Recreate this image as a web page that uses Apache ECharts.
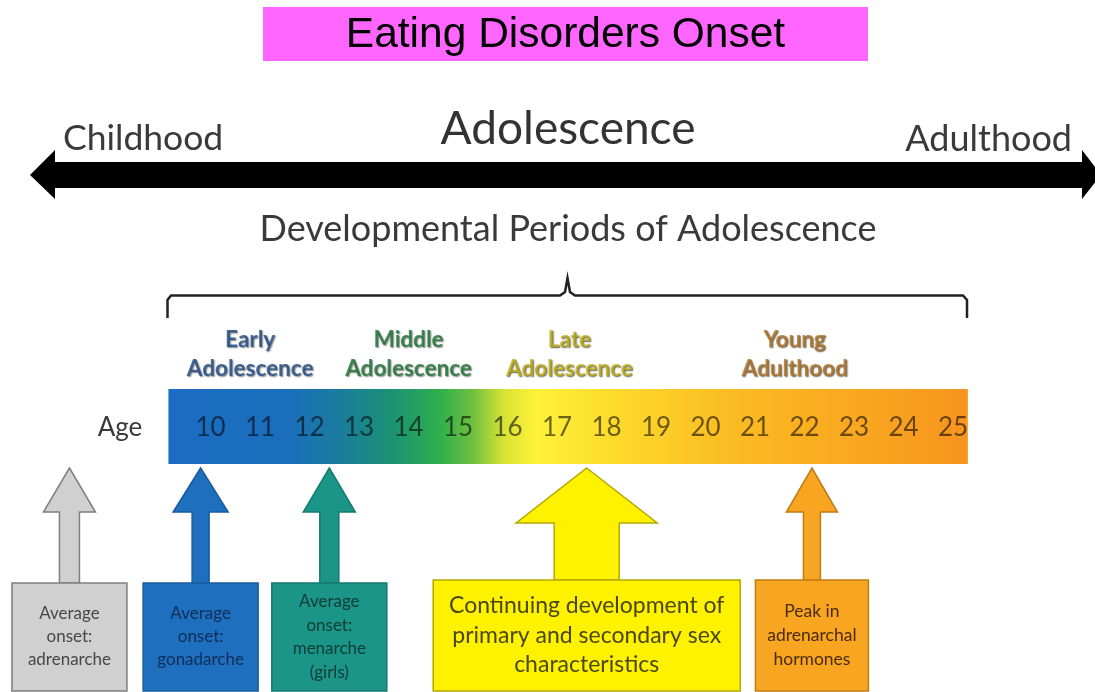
<!DOCTYPE html>
<html><head><meta charset="utf-8">
<script src="https://cdn.jsdelivr.net/npm/echarts/dist/echarts.min.js"></script>
<style>html,body{margin:0;padding:0;background:#fff}#main{width:1095px;height:692px}</style>
</head><body><div id="main"></div>
<script>
// ---------- data ----------
const chartTitle = 'Eating Disorders Onset';
const lifeStages = ['Childhood', 'Adolescence', 'Adulthood'];
const subTitle = 'Developmental Periods of Adolescence';
const ageAxisName = 'Age';
const ages = [10, 11, 12, 13, 14, 15, 16, 17, 18, 19, 20, 21, 22, 23, 24, 25];
const bandAgeRange = [9.15, 25.3];
const periodNames = ['Early\nAdolescence', 'Middle\nAdolescence', 'Late\nAdolescence', 'Young\nAdulthood'];
const periodCenterAges = [10.8, 14, 17.25, 21.8];
const eventTexts = [
  'Average\nonset:\nadrenarche',
  'Average\nonset:\ngonadarche',
  'Average\nonset:\nmenarche\n(girls)',
  'Continuing development of\nprimary and secondary sex\ncharacteristics',
  'Peak in\nadrenarchal\nhormones'
];
const eventAges = [7.15, 9.8, 12.4, 17.6, 22.15];

// ---------- styles / layout ----------
const FONT = 'Lato, "Open Sans", sans-serif';
const L = { bandTop: 389, bandBottom: 464, ageY: 428, periodY: 354, tipY: 468, bottom: 691 };
const periodStyles = [
  { color: '#1F4B84', shadow: 'rgba(0,0,0,0.6)' },
  { color: '#1E7636', shadow: 'rgba(0,0,0,0.6)' },
  { color: '#C2B21C', shadow: 'rgba(40,40,0,0.9)' },
  { color: '#B07628', shadow: 'rgba(40,20,0,0.85)' }
];
const eventStyles = [
  { hh: 26, sh: 10, base: 512, top: 583, bw: 57.5, fill: '#D0D0D0', stroke: '#7F7F7F', text: '#474747', fs: 17, lh: 23 },
  { hh: 27.5, sh: 8.5, base: 512, top: 583, bw: 57.5, fill: '#1F6FBF', stroke: '#195C9E', text: '#0E2E55', fs: 17, lh: 23 },
  { hh: 26, sh: 9.5, base: 512, top: 583, bw: 57.5, fill: '#1B9587', stroke: '#167A6F', text: '#0D3B36', fs: 17, lh: 23.5 },
  { hh: 70.5, sh: 32.5, base: 523, top: 580, bw: 153.5, fill: '#FFF200', stroke: '#B5A800', text: '#4A4712', fs: 23, lh: 29.5 },
  { hh: 25.5, sh: 8.5, base: 512, top: 580, bw: 56.5, fill: '#F8A521', stroke: '#C07C14', text: '#4A2C05', fs: 17.5, lh: 24 }
];

const chart = echarts.init(document.getElementById('main'), null, { renderer: 'canvas' });

const option = {
  backgroundColor: '#ffffff',
  animation: false,
  grid: { left: 0, right: 0, top: 0, bottom: 0 },
  xAxis: { type: 'value', min: 5.747, max: 27.869, show: false },
  yAxis: { type: 'value', min: 0, max: 692, inverse: true, show: false },
  graphic: [
    { type: 'rect', shape: { x: 263, y: 7, width: 605, height: 54 }, style: { fill: '#FF66FF' } },
    { type: 'text', x: 565.5, y: 35, style: { text: chartTitle, font: '42.5px "Liberation Sans", Arial, sans-serif', fill: '#000', align: 'center', verticalAlign: 'middle' } },
    { type: 'polygon', shape: { points: [[30, 175], [55, 150], [55, 162], [1082, 162], [1082, 150], [1101, 175], [1082, 199], [1082, 188], [55, 188], [55, 199]] }, style: { fill: '#000' } },
    { type: 'text', x: 63, y: 139, style: { text: lifeStages[0], font: '35.5px ' + FONT, fill: '#3a3a3a', align: 'left', verticalAlign: 'middle' } },
    { type: 'text', x: 568, y: 129, style: { text: lifeStages[1], font: '46px ' + FONT, fill: '#333', align: 'center', verticalAlign: 'middle' } },
    { type: 'text', x: 1072, y: 139, style: { text: lifeStages[2], font: '36px ' + FONT, fill: '#3a3a3a', align: 'right', verticalAlign: 'middle' } },
    { type: 'text', x: 568, y: 229, style: { text: subTitle, font: '36px ' + FONT, fill: '#3a3a3a', align: 'center', verticalAlign: 'middle' } },
    { type: 'polyline', shape: { points: [[167.5, 318], [167.5, 300], [171, 295.5], [560, 295.5], [565, 292], [567.5, 278], [570, 292], [575, 295.5], [963, 295.5], [967, 300], [967, 318]] }, style: { stroke: '#222', lineWidth: 2.5, fill: null } },
    { type: 'text', x: 120, y: 428, style: { text: ageAxisName, font: '26px ' + FONT, fill: '#3a3a3a', align: 'center', verticalAlign: 'middle' } }
  ],
  series: [
    {
      type: 'custom', name: 'band', silent: true,
      data: [[bandAgeRange[0], bandAgeRange[1]]],
      renderItem: function (params, api) {
        const p0 = api.coord([api.value(0), L.bandTop]);
        const p1 = api.coord([api.value(1), L.bandBottom]);
        return {
          type: 'rect',
          shape: { x: p0[0], y: p0[1], width: p1[0] - p0[0], height: p1[1] - p0[1] },
          style: {
            fill: new echarts.graphic.LinearGradient(0, 0, 1, 0, [
              { offset: 0, color: '#1B6CC2' },
              { offset: 0.15, color: '#1B6EBB' },
              { offset: 0.22, color: '#1A7E9A' },
              { offset: 0.28, color: '#1B9273' },
              { offset: 0.34, color: '#2FB04C' },
              { offset: 0.38, color: '#6DBF40' },
              { offset: 0.42, color: '#D8E334' },
              { offset: 0.46, color: '#FFF23A' },
              { offset: 0.56, color: '#FDDA2C' },
              { offset: 0.7, color: '#FBBC22' },
              { offset: 1, color: '#F7951E' }
            ])
          }
        };
      }
    },
    {
      type: 'scatter', name: 'ages', silent: true, symbolSize: 0,
      data: ages.map(a => [a, L.ageY]),
      label: {
        show: true, position: 'inside',
        formatter: p => String(p.value[0]),
        fontFamily: FONT, fontSize: 26, color: 'rgba(0,0,0,0.72)'
      }
    },
    {
      type: 'scatter', name: 'periods', silent: true, symbolSize: 0,
      data: periodNames.map((n, i) => ({
        name: n, value: [periodCenterAges[i], L.periodY],
        label: { color: periodStyles[i].color, textShadowColor: periodStyles[i].shadow }
      })),
      label: {
        show: true, position: 'inside', formatter: '{b}',
        fontFamily: FONT, fontWeight: 'bold', fontSize: 22.5, lineHeight: 29,
        textShadowBlur: 1.5, textShadowOffsetX: 1, textShadowOffsetY: 1
      }
    },
    {
      type: 'custom', name: 'events', silent: true,
      data: eventAges.map((a, i) => [a, i]),
      renderItem: function (params, api) {
        const i = api.value(1);
        const s = eventStyles[i];
        const cx = api.coord([api.value(0), L.tipY])[0];
        const tip = api.coord([api.value(0), L.tipY])[1];
        const base = api.coord([api.value(0), s.base])[1];
        const top = api.coord([api.value(0), s.top])[1];
        const bot = api.coord([api.value(0), L.bottom])[1];
        return {
          type: 'group',
          children: [
            {
              type: 'polygon',
              shape: { points: [[cx, tip], [cx + s.hh, base], [cx + s.sh, base], [cx + s.sh, top], [cx - s.sh, top], [cx - s.sh, base], [cx - s.hh, base]] },
              style: { fill: s.fill, stroke: s.stroke, lineWidth: 1.5 }
            },
            {
              type: 'rect',
              shape: { x: cx - s.bw, y: top, width: s.bw * 2, height: bot - top },
              style: { fill: s.fill, stroke: s.stroke, lineWidth: 1.5 }
            },
            {
              type: 'text',
              style: {
                text: eventTexts[i], x: cx, y: (top + bot) / 2,
                align: 'center', verticalAlign: 'middle',
                font: s.fs + 'px ' + FONT, lineHeight: s.lh, fill: s.text
              }
            }
          ]
        };
      }
    }
  ]
};
chart.setOption(option);
</script>
</body></html>
